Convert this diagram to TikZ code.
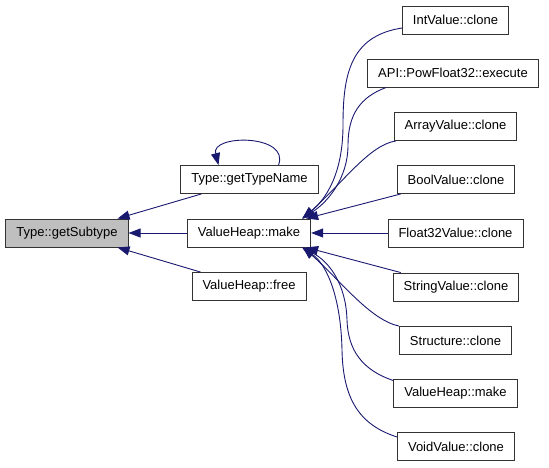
\documentclass[tikz,border=0pt]{standalone}
\usepackage{fontspec}
\setmainfont{Liberation Sans}
\usepackage{tikz}
\usetikzlibrary{arrows.meta}
\definecolor{edgeblue}{HTML}{191970}
\definecolor{rootgray}{HTML}{BFBFBF}
\tikzset{
	func node/.style={rectangle,draw=black!80,line width=0.9pt,fill=white,font=\fontsize{13}{15}\selectfont,
		inner xsep=10.5pt,inner ysep=0pt,minimum height=28pt},
	root node/.style={func node,fill=rootgray},
	call/.style={draw=edgeblue,line width=0.9pt}
}

\begin{document}
\begin{tikzpicture}[x=1pt,y=-1pt,->,>={Triangle[length=12pt,width=9pt]}]
	\useasboundingbox (0,0) rectangle (549,467);
	% left part
	\node [root node] (sub) at (67,233) {Type::getSubtype};
	\node [func node] (tname) at (249.5,179.5) {Type::getTypeName};
	\node [func node] (make) at (249,233) {ValueHeap::make};
	\node [func node] (free) at (249,286.5) {ValueHeap::free};
	% callers of ValueHeap::make
	\node [func node] (int) at (455.5,20) {IntValue::clone};
	\node [func node] (api) at (453,73) {API::PowFloat32::execute};
	\node [func node] (arr) at (455.5,126.5) {ArrayValue::clone};
	\node [func node] (bool) at (456,179.5) {BoolValue::clone};
	\node [func node] (f32) at (455.5,233) {Float32Value::clone};
	\node [func node] (str) at (456,287) {StringValue::clone};
	\node [func node] (struc) at (455.5,340.5) {Structure::clone};
	\node [func node] (make2) at (455.5,393) {ValueHeap::make};
	\node [func node] (void) at (456,446.5) {VoidValue::clone};

	\draw [call] ([xshift=21pt]tname.south west) -- ([xshift=-11pt]sub.north east);
	\draw [call] (make.west) -- (sub.east);
	\draw [call] ([xshift=9pt]free.north west) -- ([xshift=-11pt]sub.south east);
	\draw [call] ([xshift=29pt]tname.north) .. controls +(12,-31) and +(-8,-31) .. ([xshift=-31pt]tname.north);

	\draw [call] ([yshift=-8pt]int.west) .. controls (350,36) and (343,75) .. (343,125)
		.. controls (343,175) and (325,200) .. ([xshift=-9pt]make.north east);
	\draw [call] ([xshift=19pt]api.south west) .. controls (360,97) and (348,115) .. (348,145)
		.. controls (348,178) and (328,202) .. ([xshift=-9pt]make.north east);
	\draw [call] ([xshift=2pt]arr.south west) .. controls (370,145) and (345,180) .. ([xshift=-8pt]make.north east);
	\draw [call] ([xshift=4pt]bool.south west) -- ([xshift=-5pt]make.north east);
	\draw [call] (f32.west) -- (make.east);
	\draw [call] ([xshift=8pt]str.north west) -- ([xshift=-5pt]make.south east);
	\draw [call] (struc.north west) .. controls (370,320) and (340,280) .. ([xshift=-8pt]make.south east);
	\draw [call] ([yshift=-2pt]make2.north west) .. controls (362,370) and (348,350) .. (347,320)
		.. controls (346,285) and (330,262) .. ([xshift=-9pt]make.south east);
	\draw [call] ([yshift=-5pt]void.north west) .. controls (360,425) and (343,400) .. (342,350)
		.. controls (341,300) and (328,265) .. ([xshift=-9pt]make.south east);
\end{tikzpicture}
\end{document}
